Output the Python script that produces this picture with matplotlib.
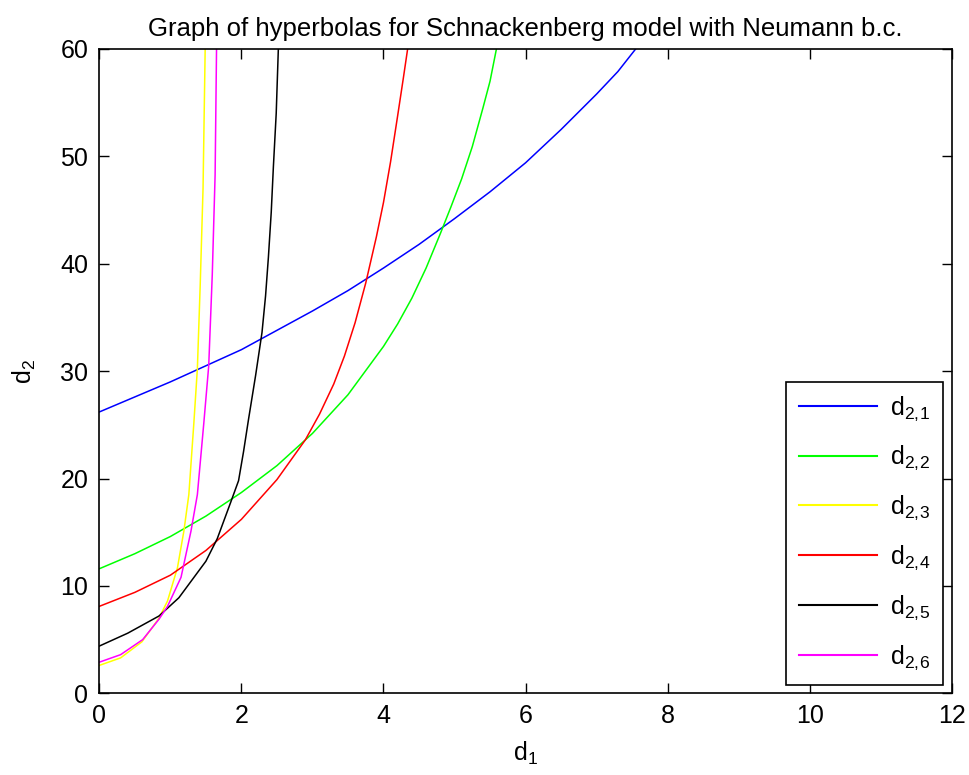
import matplotlib
matplotlib.use("Agg")
import matplotlib.pyplot as plt

plt.rcParams['font.family'] = ['Liberation Sans', 'DejaVu Sans']
plt.rcParams['mathtext.default'] = 'regular'

# curves (d1, d2)
d1_blue = [0, 1.0, 2.0, 3.0, 3.5, 4.0, 4.5, 5.0, 5.5, 6.0, 6.5, 7.0, 7.3, 7.55]
d2_blue = [26.2, 29.0, 32.0, 35.6, 37.5, 39.6, 41.8, 44.2, 46.7, 49.4, 52.5, 55.8, 57.9, 60.0]

d1_green = [0, 0.5, 1.0, 1.5, 2.0, 2.5, 3.0, 3.5, 4.0, 4.2, 4.4, 4.6, 4.8, 4.95, 5.1,
            5.25, 5.4, 5.5, 5.59]
d2_green = [11.6, 13.0, 14.6, 16.5, 18.7, 21.2, 24.2, 27.8, 32.3, 34.4, 36.8, 39.6, 42.8,
            45.3, 47.9, 50.9, 54.5, 57.0, 60.0]

d1_yellow = [0, 0.3, 0.6, 0.84, 0.96, 1.1, 1.19, 1.26, 1.33, 1.38, 1.42, 1.46, 1.49]
d2_yellow = [2.6, 3.3, 4.8, 7.0, 8.6, 11.7, 15.1, 18.5, 25.1, 30.2, 38.0, 47.0, 60.0]

d1_red = [0, 0.5, 1.0, 1.5, 2.0, 2.5, 2.9, 3.1, 3.3, 3.45, 3.6, 3.75, 3.9, 4.0, 4.1,
          4.2, 4.28, 4.34]
d2_red = [8.1, 9.4, 11.0, 13.3, 16.2, 19.9, 23.6, 26.0, 28.8, 31.4, 34.5, 38.2, 42.5,
          45.7, 49.5, 53.8, 57.3, 60.0]

d1_black = [0, 0.4, 0.84, 1.12, 1.5, 1.66, 1.85, 1.96, 2.03, 2.1, 2.2, 2.29, 2.34, 2.38,
            2.42, 2.45, 2.49, 2.52]
d2_black = [4.4, 5.6, 7.2, 8.9, 12.3, 14.4, 17.8, 19.8, 22.5, 25.5, 29.6, 33.6, 37.0,
            40.6, 44.8, 49.0, 54.0, 60.0]

d1_magenta = [0, 0.3, 0.61, 0.84, 0.96, 1.15, 1.29, 1.38, 1.47, 1.54, 1.59, 1.63, 1.65]
d2_magenta = [2.9, 3.6, 5.0, 6.9, 8.1, 10.8, 15.1, 18.5, 25.1, 30.5, 39.0, 48.3, 60.0]

labels = ['d$_{2,\\!1}$', 'd$_{2,\\!2}$', 'd$_{2,\\!3}$', 'd$_{2,\\!4}$',
          'd$_{2,\\!5}$', 'd$_{2,\\!6}$']
colors = ['#0000ff', '#00ff00', '#ffff00', '#ff0000', '#000000', '#ff00ff']

fig = plt.figure(figsize=(9.7, 7.75), dpi=100)
ax = fig.add_axes([0.1024, 0.1054, 0.8788, 0.8314])

curves = [(d1_blue, d2_blue), (d1_green, d2_green), (d1_yellow, d2_yellow),
          (d1_red, d2_red), (d1_black, d2_black), (d1_magenta, d2_magenta)]
for (x, y), c, lab in zip(curves, colors, labels):
    ax.plot(x, y, color=c, lw=1.1, label=lab)

ax.set_xlim(0, 12)
ax.set_ylim(0, 60)
ax.set_xticks(range(0, 13, 2))
ax.set_yticks(range(0, 61, 10))
ax.tick_params(direction='in', length=7, width=1, top=True, right=True,
               labelsize=18, pad=8)
for s in ax.spines.values():
    s.set_linewidth(1.2)

ax.set_title('Graph of hyperbolas for Schnackenberg model with Neumann b.c.',
             fontsize=18.5, pad=9)
ax.set_xlabel('d$_1$', fontsize=18, labelpad=8)
ax.set_ylabel('d$_2$', fontsize=18, labelpad=16)

leg = ax.legend(loc='lower right', fontsize=18, handlelength=3.15,
                labelspacing=0.86, fancybox=False, framealpha=1,
                edgecolor='black', borderaxespad=0.35, borderpad=0.5,
                handletextpad=0.5)
leg.get_frame().set_linewidth(1.2)
for ln in leg.get_lines():
    ln.set_linewidth(1.5)

fig.savefig('out.png', dpi=100)
